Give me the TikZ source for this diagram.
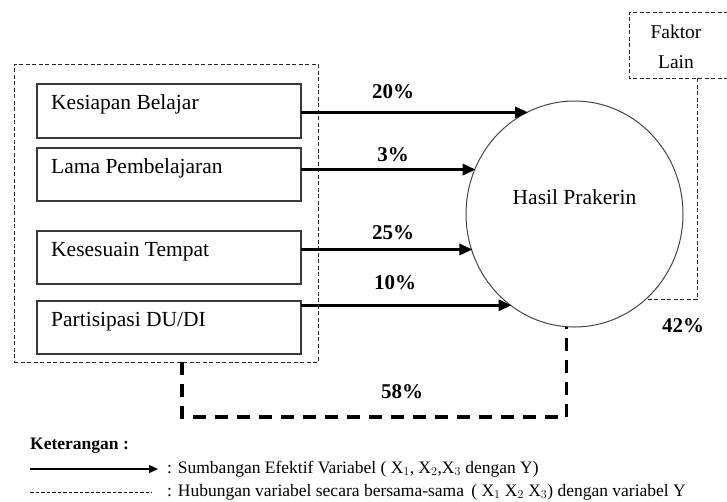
\documentclass[tikz,border=0pt]{standalone}
\usepackage{fontspec}
\setmainfont{Liberation Serif}
\usetikzlibrary{arrows.meta,shapes.geometric}
\definecolor{boxgray}{HTML}{3A3A3A}
\definecolor{circgray}{HTML}{444444}
\tikzset{
  big/.style={font=\fontsize{21.5}{25}\selectfont},
  pct/.style={font=\fontsize{21}{24}\selectfont\bfseries},
  varbox/.style={draw=boxgray, line width=1.1pt, minimum width=264pt, minimum height=54pt, inner sep=0pt, outer sep=0pt, anchor=north west},
  boxtext/.style={anchor=west, xshift=14pt, yshift=-20.5pt, inner sep=0pt, big},
  thinbox/.style={draw=black!85, line width=0.9pt, dash pattern=on 4pt off 2.5pt},
  effarrow/.style={line width=3pt, -{Triangle[length=13pt,width=11pt]}, shorten >=-1pt},
  jointline/.style={line width=3.6pt, dash pattern=on 13pt off 9pt},
  legtext/.style={font=\fontsize{17.5}{20}\selectfont, anchor=west, inner sep=0pt},
}
\begin{document}
\begin{tikzpicture}[x=1pt,y=-1pt]
\useasboundingbox (0,0) rectangle (727,501);
% group box
\node[thinbox, minimum width=304pt, minimum height=298pt, inner sep=0pt, outer sep=0pt] (grp) at (166,213) {};
% variable boxes
\node[varbox, label={[boxtext]north west:Kesiapan Belajar}] (b1) at (37,84) {};
\node[varbox, minimum height=53pt, label={[boxtext]north west:Lama Pembelajaran}] (b2) at (37,148) {};
\node[varbox, minimum height=53pt, label={[boxtext]north west:Kesesuain Tempat}] (b3) at (37,231) {};
\node[varbox, minimum height=53pt, label={[boxtext]north west:Partisipasi DU/DI}] (b4) at (37,301) {};
% result ellipse
\node[draw=circgray, line width=1pt, ellipse, minimum width=217pt, minimum height=226pt, inner sep=0pt, outer sep=0pt,
      label={[big, yshift=17pt]center:Hasil Prakerin}] (c) at (574.5,214) {};
% Faktor lain
\node[align=center, inner sep=0pt, font=\fontsize{19.5}{30}\selectfont] (fk) at (676,47) {Faktor\\Lain};
\draw[thinbox] (728,12) -- (629,12) -- (629,78) -- (728,78);
\coordinate (fkb) at (697,78);
\draw[thinbox] (fkb) |- (c.310.5);
% effective contribution arrows
\draw[effarrow] (c.115.65 -| b1.east) -- (c.115.65);
\draw[effarrow] (c.156.2 -| b2.east) -- (c.156.2);
\draw[effarrow] (c.199.3 -| b3.east) -- (c.199.3);
\draw[effarrow] (c.235.6 -| b4.east) -- (c.235.6);
\node[pct] (p1) at (393,92) {20\%};
\node[pct] (p2) at (393,155) {3\%};
\node[pct] (p3) at (393,233) {25\%};
\node[pct] (p4) at (395,283) {10\%};
\node[pct] (p5) at (683,326) {42\%};
\node[pct] (p6) at (402,392) {58\%};
% joint relation
\coordinate (gs) at ([xshift=16pt]grp.south);
\draw[jointline] (gs) -- ++(0,55) -| (c.266);
% legend
\node[font=\fontsize{17.5}{20}\selectfont\bfseries, anchor=west, inner sep=0pt] (ket) at (30,446) {Keterangan :};
\coordinate (la) at (30,469);
\coordinate (lb) at (158,469);
\draw[line width=1.4pt, -{Triangle[length=9pt,width=8pt]}] (la) -- (lb);
\node[legtext] (l1) at (167,469) {: Sumbangan Efektif Variabel ( X$_1$, X$_2$,X$_3$ dengan Y)};
\coordinate (da) at (30,492);
\coordinate (db) at (152,492);
\draw[line width=0.8pt, dash pattern=on 3.5pt off 2pt] (da) -- (db);
\node[legtext] (l2) at (167,492) {: Hubungan variabel secara bersama-sama \,( X$_1$ X$_2$ X$_3$) dengan variabel Y};
\end{tikzpicture}
\end{document}
